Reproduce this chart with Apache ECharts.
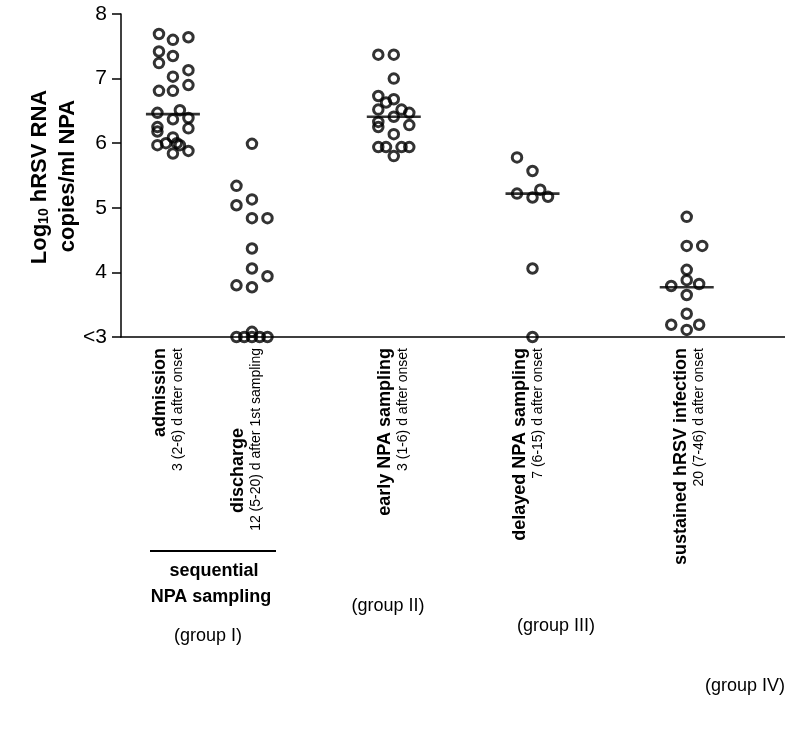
<!DOCTYPE html>
<html>
<head>
<meta charset="utf-8">
<script src="https://cdn.jsdelivr.net/npm/echarts@6/dist/echarts.min.js"></script>
<style>
html,body{margin:0;padding:0;background:#fff;}
#chart{width:785px;height:739px;}
</style>
</head>
<body>
<div id="chart"></div>
<script>
// ---- data (log10 copies/ml; column position, jitter offset in column units) ----
var yTicks = [3, 4, 5, 6, 7, 8];
var yTickLabels = ['<3', '4', '5', '6', '7', '8'];

var colPos = { admission: 0.49, discharge: 1.0, early: 1.915, delayed: 2.81, sustained: 3.805 };

var admissionValues = [7.69, 7.60, 7.64, 7.42, 7.24, 7.35, 7.03, 7.13, 6.81, 6.81, 6.90, 6.47, 6.51, 6.37, 6.39, 6.25, 6.18, 6.23, 5.97, 6.00, 6.09, 6.00, 5.97, 5.84, 5.88];
var admissionJitter = [-0.09, 0, 0.1, -0.09, -0.09, 0, 0, 0.1, -0.09, 0, 0.1, -0.1, 0.045, 0, 0.1, -0.1, -0.1, 0.1, -0.1, -0.045, 0, 0.025, 0.045, 0, 0.1];

var dischargeValues = [5.99, 5.34, 5.04, 5.13, 4.84, 4.84, 4.37, 4.06, 3.94, 3.80, 3.77, 3.0, 3.0, 3.08, 3.0, 3.0, 3.0];
var dischargeJitter = [0, -0.1, -0.1, 0, 0, 0.1, 0, 0, 0.1, -0.1, 0, -0.1, -0.05, 0, 0, 0.05, 0.1];

var earlyValues = [7.37, 7.37, 7.00, 6.73, 6.68, 6.63, 6.52, 6.52, 6.47, 6.41, 6.33, 6.25, 6.28, 6.14, 5.94, 5.94, 5.94, 5.94, 5.80];
var earlyJitter = [-0.1, 0, 0, -0.1, 0, -0.05, -0.1, 0.05, 0.1, 0, -0.1, -0.1, 0.1, 0, -0.1, -0.05, 0.05, 0.1, 0];

var delayedValues = [5.78, 5.57, 5.22, 5.16, 5.28, 5.17, 4.06, 3.0];
var delayedJitter = [-0.1, 0, -0.1, 0, 0.05, 0.1, 0, 0];

var sustainedValues = [4.86, 4.41, 4.41, 4.04, 3.79, 3.88, 3.82, 3.65, 3.36, 3.19, 3.11, 3.19];
var sustainedJitter = [0, 0, 0.1, 0, -0.1, 0, 0.08, 0, 0, -0.1, 0, 0.08];

var medianValues = { admission: 6.45, early: 6.41, delayed: 5.22, sustained: 3.77 };

// ---- build ----
function pts(col, vals, jit) {
  return vals.map(function (v, i) { return [colPos[col] + jit[i], v]; });
}
var allPoints = [].concat(
  pts('admission', admissionValues, admissionJitter),
  pts('discharge', dischargeValues, dischargeJitter),
  pts('early', earlyValues, earlyJitter),
  pts('delayed', delayedValues, delayedJitter),
  pts('sustained', sustainedValues, sustainedJitter)
);
var medianPoints = Object.keys(medianValues).map(function (k) { return [colPos[k], medianValues[k]]; });

var FF = '"Liberation Sans", Arial, Helvetica, sans-serif';
function vtext(x, yTop, txt, bold, size) {
  return {
    type: 'text', x: x, y: yTop, rotation: Math.PI / 2, silent: true,
    style: { text: txt, fontFamily: FF, fontSize: size, fontWeight: bold ? 'bold' : 'normal',
             fill: '#000', align: 'right', verticalAlign: 'middle' }
  };
}
function htext(x, y, txt, bold, size) {
  return {
    type: 'text', x: x, y: y, silent: true,
    style: { text: txt, fontFamily: FF, fontSize: size, fontWeight: bold ? 'bold' : 'normal',
             fill: '#000', align: 'center', verticalAlign: 'middle' }
  };
}

var chart = echarts.init(document.getElementById('chart'), null, { renderer: 'canvas' });
chart.setOption({
  animation: false,
  backgroundColor: '#fff',
  grid: { left: 121, right: 0, top: 14, bottom: 402 },
  xAxis: {
    type: 'value', min: 0.155, max: 4.439,
    axisLine: { show: true, onZero: false, lineStyle: { color: '#000', width: 1.5 } },
    axisTick: { show: false }, axisLabel: { show: false }, splitLine: { show: false }
  },
  yAxis: {
    type: 'value', min: 3, max: 8, interval: 1,
    axisLine: { show: true, lineStyle: { color: '#000', width: 1.5 } },
    axisTick: { show: true, length: 9, lineStyle: { color: '#000', width: 1.5 } },
    axisLabel: {
      margin: 14, color: '#000', fontSize: 21, fontFamily: FF,
      formatter: function (v) { var i = yTicks.indexOf(v); return i >= 0 ? yTickLabels[i] : ''; }
    },
    splitLine: { show: false }
  },
  series: [
    {
      type: 'scatter', data: medianPoints, symbol: 'rect', symbolSize: [54, 2.6],
      itemStyle: { color: '#000' }, z: 3, silent: true
    },
    {
      type: 'scatter', data: allPoints, symbol: 'circle', symbolSize: 9.5,
      itemStyle: { color: 'rgba(0,0,0,0)', borderColor: '#000', borderWidth: 3 }, z: 4, silent: true
    }
  ],
  graphic: [
    {
      type: 'text', x: 40, y: 177, rotation: Math.PI / 2, silent: true,
      style: {
        text: '{a|Log}{s|10}{a| hRSV RNA}', align: 'center', verticalAlign: 'middle',
        rich: {
          a: { fontFamily: FF, fontSize: 22, fontWeight: 'bold', fill: '#000', color: '#000' },
          s: { fontFamily: FF, fontSize: 14, fontWeight: 'bold', fill: '#000', color: '#000', verticalAlign: 'bottom', padding: [8, 0, 0, 0] }
        }
      }
    },
    {
      type: 'text', x: 68, y: 176, rotation: Math.PI / 2, silent: true,
      style: { text: 'copies/ml NPA', fontFamily: FF, fontSize: 22, fontWeight: 'bold', fill: '#000', align: 'center', verticalAlign: 'middle' }
    },
    vtext(160, 348, 'admission', true, 18),
    vtext(178, 348, '3 (2-6) d after onset', false, 14),
    vtext(238, 428, 'discharge', true, 18),
    vtext(256, 348, '12 (5-20) d after 1st sampling', false, 14),
    vtext(385, 348, 'early NPA sampling', true, 18),
    vtext(403, 348, '3 (1-6) d after onset', false, 14),
    vtext(520, 348, 'delayed NPA sampling', true, 18),
    vtext(538, 348, '7 (6-15) d after onset', false, 14),
    vtext(681, 348, 'sustained hRSV infection', true, 18),
    vtext(699, 348, '20 (7-46) d after onset', false, 14),
    { type: 'line', silent: true, shape: { x1: 150, y1: 551, x2: 276, y2: 551 }, style: { stroke: '#000', lineWidth: 2 } },
    htext(214, 571, 'sequential', true, 18),
    htext(211, 597, 'NPA sampling', true, 18),
    htext(208, 636, '(group I)', false, 18),
    htext(388, 606, '(group II)', false, 18),
    htext(556, 626, '(group III)', false, 18),
    htext(745, 686, '(group IV)', false, 18)
  ]
});
</script>
</body>
</html>
